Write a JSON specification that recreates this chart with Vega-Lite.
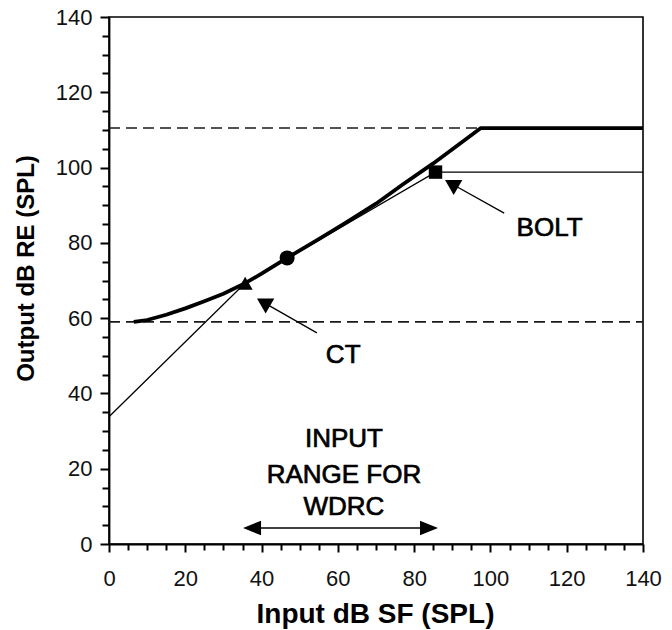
{
  "$schema": "https://vega.github.io/schema/vega-lite/v6.json",
  "width": 534,
  "height": 527,
  "autosize": {"type": "none"},
  "padding": {"left": 109, "top": 17, "right": 29, "bottom": 86},
  "background": "white",
  "config": {
    "view": {"stroke": "#000", "strokeWidth": 1.6},
    "font": "Liberation Sans",
    "axis": {
      "grid": false,
      "domainColor": "#000",
      "domainWidth": 1.8,
      "tickColor": "#000",
      "tickOpacity": 1,
      "tickWidth": 2,
      "tickRound": true,
      "labelColor": "#111",
      "labelFont": "Liberation Sans",
      "labelFontSize": 22,
      "labelFlush": false,
      "labelOverlap": false,
      "titleFont": "Liberation Sans",
      "titleFontWeight": "bold",
      "titleColor": "#000"
    }
  },
  "encoding": {
    "x": {
      "field": "x",
      "type": "quantitative",
      "scale": {"domain": [0, 140], "nice": false},
      "axis": {
        "values": [0,5,10,15,20,25,30,35,40,45,50,55,60,65,70,75,80,85,90,95,100,105,110,115,120,125,130,135,140],
        "labelExpr": "datum.value % 20 === 0 ? datum.label : ''",
        "tickSize": {"condition": {"test": "datum.value % 20 === 0", "value": 8}, "value": 6},
        "tickColor": "#000",
        "labelPadding": 16,
        "title": "Input dB SF (SPL)",
        "titleFontSize": 28,
        "titleX": 266,
        "titleY": 78,
        "titleAlign": "center",
        "titleBaseline": "alphabetic"
      }
    },
    "y": {
      "field": "y",
      "type": "quantitative",
      "scale": {"domain": [0, 140], "nice": false},
      "axis": {
        "values": [0,5,10,15,20,25,30,35,40,45,50,55,60,65,70,75,80,85,90,95,100,105,110,115,120,125,130,135,140],
        "labelExpr": "datum.value % 20 === 0 ? datum.label : ''",
        "tickSize": {"condition": {"test": "datum.value % 20 === 0", "value": 9}, "value": 7},
        "tickColor": "#000",
        "labelPadding": 8,
        "title": "Output dB RE (SPL)",
        "titleFontSize": 24,
        "titleX": -76,
        "titleY": 251,
        "titleAngle": -90,
        "titleAlign": "center",
        "titleBaseline": "alphabetic"
      }
    }
  },
  "layer": [
    {
      "data": {"values": [{"x": 0, "x2": 140, "y": 110.5}, {"x": 0, "x2": 140, "y": 59}]},
      "mark": {"type": "rule", "strokeDash": [11, 6], "strokeWidth": 1.6, "color": "#1a1a1a"},
      "encoding": {"x2": {"field": "x2"}}
    },
    {
      "data": {"values": [{"x": 0, "y": 33.8}, {"x": 35.7, "y": 69.3}, {"x": 85.6, "y": 98.8}, {"x": 140, "y": 98.8}]},
      "mark": {"type": "line", "strokeWidth": 1.3, "color": "#000"},
      "encoding": {}
    },
    {
      "data": {"values": [
        {"x": 6.5, "y": 59.0}, {"x": 10, "y": 59.5}, {"x": 15, "y": 60.9}, {"x": 20, "y": 62.6},
        {"x": 25, "y": 64.5}, {"x": 30, "y": 66.5}, {"x": 35.7, "y": 69.3}, {"x": 40, "y": 71.8},
        {"x": 46.7, "y": 76.0}, {"x": 55, "y": 81.0}, {"x": 62, "y": 85.3}, {"x": 70, "y": 90.4},
        {"x": 77, "y": 95.5}, {"x": 85, "y": 101.1}, {"x": 91, "y": 105.6}, {"x": 97.5, "y": 110.5},
        {"x": 140, "y": 110.5}
      ]},
      "mark": {"type": "line", "strokeWidth": 3.8, "color": "#000", "strokeJoin": "round"},
      "encoding": {}
    },
    {
      "data": {"values": [{"x": 35.7, "y": 69.3}]},
      "mark": {"type": "point", "shape": "triangle-up", "filled": true, "size": 225, "color": "#000", "opacity": 1},
      "encoding": {}
    },
    {
      "data": {"values": [{"x": 46.7, "y": 76.0}]},
      "mark": {"type": "point", "shape": "circle", "filled": true, "size": 225, "color": "#000", "opacity": 1},
      "encoding": {}
    },
    {
      "data": {"values": [{"x": 85.6, "y": 98.8}]},
      "mark": {"type": "point", "shape": "square", "filled": true, "size": 180, "color": "#000", "opacity": 1},
      "encoding": {}
    },
    {
      "data": {"values": [
        {"x": 54.5, "y": 56.1, "x2": 40.5, "y2": 64.2},
        {"x": 103.6, "y": 87.9, "x2": 89.8, "y2": 95.7},
        {"x": 37.5, "y": 4.25, "x2": 83.9, "y2": 4.25}
      ]},
      "mark": {"type": "rule", "strokeWidth": 1.3, "color": "#000"},
      "encoding": {"x2": {"field": "x2"}, "y2": {"field": "y2"}}
    },
    {
      "data": {"values": [{"x": 40.5, "y": 64.2}, {"x": 89.8, "y": 95.7}]},
      "mark": {"type": "point", "shape": "triangle-up", "angle": 300, "filled": true, "size": 300, "color": "#000", "opacity": 1},
      "encoding": {}
    },
    {
      "data": {"values": [{"x": 37.5, "y": 4.25}]},
      "mark": {"type": "point", "shape": "M-1,0L1,-0.8L1,0.8Z", "filled": true, "size": 324, "color": "#000", "opacity": 1},
      "encoding": {}
    },
    {
      "data": {"values": [{"x": 83.9, "y": 4.25}]},
      "mark": {"type": "point", "shape": "M1,0L-1,-0.8L-1,0.8Z", "filled": true, "size": 324, "color": "#000", "opacity": 1},
      "encoding": {}
    },
    {
      "data": {"values": [
        {"x": 61.4, "y": 50.2, "label": "CT"},
        {"x": 115.5, "y": 84, "label": "BOLT"},
        {"x": 61.6, "y": 27.9, "label": "INPUT"},
        {"x": 61.6, "y": 18.3, "label": "RANGE FOR"},
        {"x": 61.6, "y": 9.8, "label": "WDRC"}
      ]},
      "mark": {"type": "text", "font": "Liberation Sans", "fontSize": 26, "color": "#000", "stroke": "#000", "strokeWidth": 0.7, "align": "center", "baseline": "middle"},
      "encoding": {"text": {"field": "label"}}
    }
  ]
}
